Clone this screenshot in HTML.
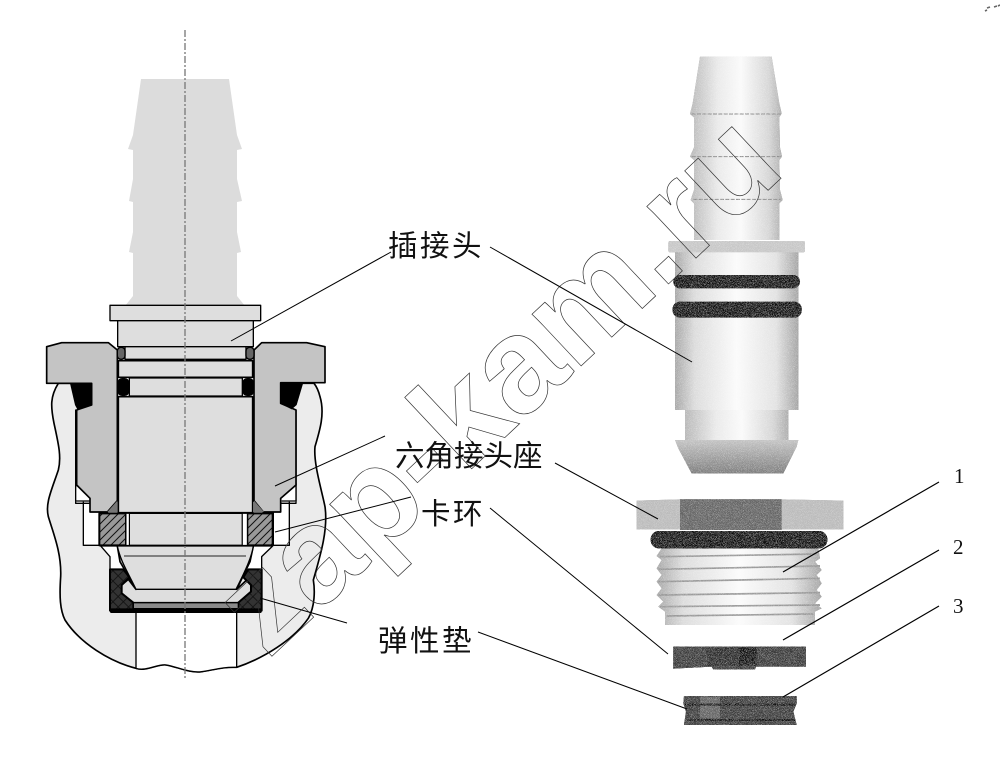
<!DOCTYPE html>
<html><head><meta charset="utf-8">
<style>
html,body{margin:0;padding:0;background:#fff;width:1000px;height:773px;overflow:hidden}
svg{display:block}
.lb{font-family:"Liberation Sans","Noto Sans CJK SC",sans-serif;font-size:29.5px;fill:#111}
.ls{letter-spacing:2.5px}
.nm{font-family:"Liberation Serif",serif;font-size:21px;fill:#111}
</style></head><body>
<svg width="1000" height="773" viewBox="0 0 1000 773" xmlns="http://www.w3.org/2000/svg">
<defs>
<pattern id="hat" width="24" height="24" patternUnits="userSpaceOnUse"><rect width="24" height="24" fill="#999"/><path d="M-6 30L30-6M-6 6L6-6M18 30L30 18" stroke="#111" stroke-width="3"/></pattern>
<pattern id="cross" width="22" height="22" patternUnits="userSpaceOnUse" patternTransform="rotate(45)"><rect width="22" height="22" fill="#333"/><path d="M0 0H22M0 0V22" stroke="#111" stroke-width="5"/></pattern>
<linearGradient id="g1" x1="0" x2="1" y1="0" y2="0"><stop offset="0" stop-color="#a8a8a8"/><stop offset=".16" stop-color="#dcdcdc"/><stop offset=".5" stop-color="#fbfbfb"/><stop offset=".82" stop-color="#e2e2e2"/><stop offset="1" stop-color="#a4a4a4"/></linearGradient>
<linearGradient id="g2" x1="0" x2="1" y1="0" y2="0"><stop offset="0" stop-color="#b8b8b8"/><stop offset=".3" stop-color="#eaeaea"/><stop offset=".55" stop-color="#fafafa"/><stop offset=".85" stop-color="#d6d6d6"/><stop offset="1" stop-color="#adadad"/></linearGradient>
<linearGradient id="g3" x1="0" x2="0" y1="0" y2="1"><stop offset="0" stop-color="#c4c4c4"/><stop offset="1" stop-color="#7e7e7e"/></linearGradient>
<filter id="n" x="-5%" y="-5%" width="110%" height="110%"><feTurbulence type="fractalNoise" baseFrequency=".8" numOctaves="2" seed="4" result="t"/><feColorMatrix in="t" type="matrix" values="0 0 0 0 0 0 0 0 0 0 0 0 0 0 0 1.4 0 0 0 -.62" result="d"/><feColorMatrix in="t" type="matrix" values="0 0 0 0 1 0 0 0 0 1 0 0 0 0 1 0 1.2 0 0 -.58" result="w"/><feComposite in="d" in2="SourceGraphic" operator="atop" result="o"/><feComposite in="w" in2="SourceGraphic" operator="atop" result="p"/><feMerge><feMergeNode in="SourceGraphic"/><feMergeNode in="o"/><feMergeNode in="p"/></feMerge></filter>
</defs>

<!-- top barb of section -->
<path fill="#dcdcdc" d="M141 79H229L237 135L242 149L237 150V179L242 201L237 202V232L241 252L237 253V296L245 306H125L133 296V253L129 252L133 232V202L129 201L133 179V150L128 149L133 135Z"/>

<!-- section -->
<g transform="translate(30,290) scale(.33333)" stroke-linejoin="round">
<path fill="#ececec" stroke="#000" stroke-width="5" d="M85 280C60 320 62 350 72 400C85 460 95 500 85 540C65 600 45 640 55 680C70 730 95 790 92 860C88 920 90 960 105 990C150 1060 240 1115 318 1135C350 1145 385 1120 410 1125C440 1130 480 1150 515 1145C550 1140 580 1130 620 1132C700 1105 790 1050 835 985C855 950 855 900 850 870C870 800 895 720 885 650C875 600 850 520 855 470C870 420 885 370 870 320C865 300 860 290 852 280Z"/>
<path fill="#fff" stroke="#000" stroke-width="4" d="M318 965V1135C350 1145 385 1120 410 1125C440 1130 480 1150 515 1145C550 1140 580 1130 620 1132V965Z"/>
<path fill="#fff" stroke="#000" stroke-width="4" d="M137 360V632H160V766H210V640H137Z"/>
<path fill="#fff" stroke="#000" stroke-width="4" d="M798 360V632H778V766H730V640H798Z"/>
<rect x="137" y="590" width="60" height="45" fill="#fff"/><rect x="740" y="590" width="58" height="45" fill="#fff"/>
<path d="M137 580V633H180M798 580V633H755" fill="none" stroke="#000" stroke-width="4"/>
<path fill="#fff" stroke="#000" stroke-width="4" d="M212 768L240 800V840H300V768Z"/>
<path fill="#fff" stroke="#000" stroke-width="4" d="M728 768L695 800V840H640V768Z"/>
<!-- hex -->
<path fill="#c4c4c4" stroke="#000" stroke-width="5" d="M50 170L95 158H235L262 180V632L232 666H180V625L140 585V360L185 345V280H50Z"/>
<path fill="#c4c4c4" stroke="#000" stroke-width="5" d="M885 170L830 158H695L672 180V632L700 666H752V625L798 585V360L752 340V278H885Z"/>
<path fill="#000" d="M120 280H186V345L142 358L135 345Z"/>
<path fill="#000" d="M752 278H820L800 345L785 358L752 340Z"/>
<path fill="#777" d="M262 632L232 666H262ZM672 632L702 666H672Z"/>
<!-- plug -->
<rect x="240" y="46" width="452" height="46" fill="#dedede" stroke="#000" stroke-width="4"/>
<rect x="263" y="92" width="407" height="78" fill="#dedede" stroke="#000" stroke-width="4"/>
<rect x="285" y="170" width="363" height="38" fill="#dedede" stroke="#000" stroke-width="4"/>
<rect x="265" y="212" width="403" height="50" fill="#dedede" stroke="#000" stroke-width="5"/>
<rect x="298" y="264" width="339" height="54" fill="#dedede" stroke="#000" stroke-width="4"/>
<rect x="265" y="320" width="403" height="348" fill="#dedede" stroke="#000" stroke-width="5"/>
<rect x="262" y="172" width="23" height="36" rx="11" fill="#666" stroke="#000" stroke-width="4"/>
<rect x="648" y="172" width="24" height="36" rx="11" fill="#666" stroke="#000" stroke-width="4"/>
<rect x="262" y="264" width="36" height="54" rx="14" fill="#000"/>
<rect x="637" y="264" width="35" height="54" rx="14" fill="#000"/>
<!-- ring band -->
<rect x="298" y="670" width="339" height="96" fill="#dedede" stroke="#000" stroke-width="4"/>
<rect x="208" y="670" width="80" height="96" fill="url(#hat)" stroke="#000" stroke-width="6"/>
<rect x="652" y="670" width="76" height="96" fill="url(#hat)" stroke="#000" stroke-width="6"/>
<rect x="288" y="670" width="10" height="96" fill="#fff" stroke="#000" stroke-width="3"/>
<rect x="637" y="670" width="15" height="96" fill="#fff" stroke="#000" stroke-width="3"/>
<!-- gasket -->
<path fill="#dedede" stroke="#000" stroke-width="5" d="M262 768H670L660 815L620 898L650 870L665 885V905L625 938H310L275 910V885L295 868L318 898L270 815Z"/>
<path fill="#dedede" stroke="#000" stroke-width="4" d="M262 768H670C665 800 650 835 618 898H318C295 850 270 810 262 768Z"/>
<path d="M282 798H648" stroke="#222" stroke-width="3"/>
<path fill="url(#cross)" stroke="#000" stroke-width="6" d="M240 838H280L298 862L275 885V910L310 938V962H240Z"/>
<path fill="url(#cross)" stroke="#000" stroke-width="6" d="M695 838H655L640 862L663 885V905L625 938V962H695Z"/>
<rect x="310" y="938" width="315" height="18" fill="#8a8a8a" stroke="#000" stroke-width="4"/>
<rect x="240" y="955" width="455" height="14" rx="4" fill="#000"/>
</g>
<!-- centerline -->
<line x1="185" y1="30" x2="185" y2="680" stroke="#777" stroke-width="1.3" stroke-dasharray="7 2 2 2"/>

<!-- plug photo -->
<g transform="translate(620,40) scale(.33333)" filter="url(#n)">
<path fill="url(#g2)" d="M240 50H455L478 190L485 220L478 232L480 322L486 350L478 360L480 450L488 480L478 490V600H222V490L212 480L222 450V360L210 350L222 322V232L210 222L218 190Z"/>
<path d="M215 222H482M215 350H482M220 478H482" stroke="#888" stroke-width="3" stroke-dasharray="12 4"/>
<rect x="145" y="603" width="410" height="34" rx="6" fill="#c8c8c8"/>
<rect x="165" y="637" width="370" height="473" fill="url(#g1)"/>
<rect x="195" y="1110" width="310" height="92" fill="url(#g2)"/>
<path fill="url(#g3)" d="M165 1200H535L530 1220L490 1300H215L175 1225Z"/>
<rect x="160" y="705" width="380" height="40" rx="20" fill="#111"/>
<rect x="158" y="785" width="387" height="48" rx="22" fill="#111"/>
</g>

<!-- fitting photo -->
<g transform="translate(620,470) scale(.33333)" filter="url(#n)">
<path fill="#bcbcbc" d="M50 92L180 88H485L670 92V178H50Z"/>
<rect x="180" y="88" width="305" height="92" fill="#666"/>
<path fill="url(#g1)" d="M125 235H595L600 265L585 275L605 300L590 315L605 340L590 360L605 380L585 400L605 415L585 425V465H135V425L115 410L130 395L110 375L125 355L110 335L125 315L110 295L125 270L110 258Z"/>
<g stroke="#999" stroke-width="5" fill="none"><path d="M120 260L590 252M115 298L600 288M115 335L600 325M115 375L600 368M120 410L600 405M140 438L580 432"/></g>
<rect x="92" y="183" width="530" height="52" rx="25" fill="#111"/>
<path fill="#3a3a3a" d="M160 530H558V590H408L405 598H280L275 590L160 596Z"/>
<rect x="262" y="532" width="145" height="55" fill="#2a2a2a"/>
<rect x="358" y="532" width="52" height="54" fill="#111"/>
<path fill="#3c3c3c" d="M192 678H530V700L520 725L530 765H192L198 725L190 700Z"/>
<rect x="240" y="680" width="60" height="65" fill="#666"/>
<path d="M195 704H525M200 750H525" stroke="#111" stroke-width="6"/>
</g>

<!-- watermark -->
<text transform="translate(268,660) rotate(-43.2)" font-family="Liberation Sans" font-weight="bold" font-size="135" fill="none" stroke="#333" stroke-width=".7">zap-kam.ru</text>

<!-- leaders -->
<g stroke="#000" stroke-width="1" fill="none">
<path d="M391 252L231 341M490 247L692 362M385 436L275 486M555 463L658 519M411 497L275 532M490 508L668 654M347 623L260 598M478 632L687 709"/>
<path d="M939 482L783 572M939 550L783 640M939 606L783 697" stroke-width="1.2"/>
</g>
<text class="lb ls" x="388" y="256">插接头</text>
<text class="lb" x="395" y="466">六角接头座</text>
<text class="lb ls" x="421" y="524">卡环</text>
<text class="lb ls" x="378" y="651">弹性垫</text>
<text class="nm" x="954" y="483">1</text>
<text class="nm" x="953" y="554">2</text>
<text class="nm" x="953" y="613">3</text>
<path d="M985 11l2-1M987 8l3-1M994 7l3-1M998 6l2-1" stroke="#666" stroke-width="1.6"/>
</svg>
</body></html>
